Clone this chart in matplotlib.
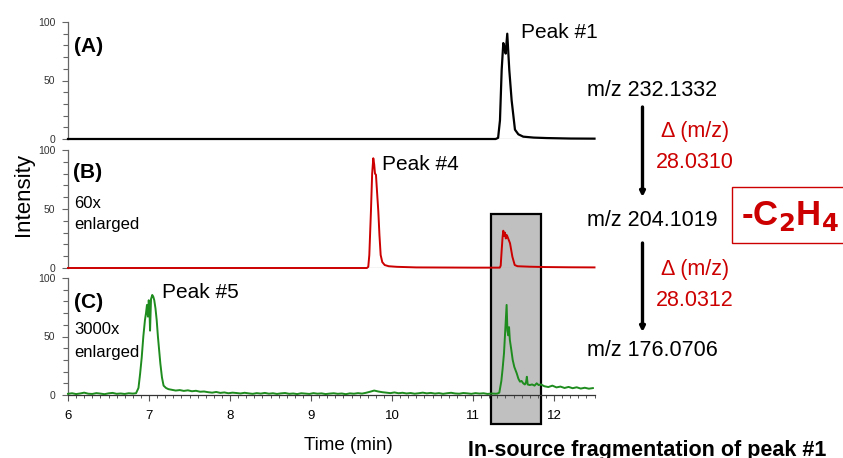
import numpy as np
import matplotlib
matplotlib.use("Agg")
import matplotlib.pyplot as plt
from matplotlib.patches import Rectangle, FancyArrowPatch
from matplotlib.transforms import blended_transform_factory
from matplotlib.ticker import MultipleLocator

plt.rcParams['font.family'] = ['Liberation Sans', 'DejaVu Sans']

# ---- chromatogram traces (time in min, relative intensity) ----
# (A) peak #1
a_time = [6.0, 11.28, 11.31, 11.333, 11.354, 11.374, 11.39, 11.403, 11.423, 11.435,
          11.448, 11.477, 11.518, 11.56, 11.62, 11.75, 11.91, 12.2, 12.5]
a_int = [0, 0, 1, 16, 59, 82, 78, 73, 90, 75,
         59, 33, 8, 4, 2, 1.2, 0.8, 0.4, 0.3]

# (B) peak #4 plus fragment at 11.4 min (60x enlarged)
b_time = [6.0, 9.69, 9.707, 9.72, 9.74, 9.755, 9.769, 9.78, 9.79, 9.802, 9.815,
          9.831, 9.845, 9.86, 9.88, 9.91, 9.96, 10.06, 10.3, 11.0, 11.33, 11.342,
          11.354, 11.365, 11.374, 11.385, 11.395, 11.405, 11.415, 11.423, 11.44,
          11.457, 11.486, 11.515, 11.55, 11.70, 11.9, 12.2, 12.5]
b_int = [0, 0, 1, 11, 48, 80, 93, 88, 80, 79, 65,
         48, 28, 11, 5, 2.5, 1.5, 1, 0.5, 0.3, 0.3, 2,
         15, 26, 31.6, 27, 30, 25, 28, 27, 24,
         21, 9.6, 2.5, 1.5, 1.1, 0.8, 0.6, 0.5]

# (C) peak #5 plus fragment at 11.4 min (3000x enlarged)
c_base1_start, c_base1_step = 6.00, 0.05
c_base1 = [1.0, 1.5, 0.8, 1.3, 2.0, 1.1, 0.9, 1.6, 1.2, 0.7, 1.4, 1.8, 1.0, 1.3,
           0.9, 1.5, 1.2]
c_peak1_time = [6.84, 6.87, 6.89, 6.91, 6.93, 6.95, 6.963, 6.975, 6.987, 6.997,
                7.005, 7.013, 7.025, 7.04, 7.053, 7.065, 7.08, 7.095, 7.11, 7.125,
                7.14, 7.16, 7.18, 7.21, 7.24]
c_peak1_int = [1.5, 6, 18, 32, 50, 64, 70, 77, 67, 81,
               74, 55, 82, 85.5, 84, 81, 74, 64, 50, 38,
               27, 15, 8, 6, 5]
c_base2_start, c_base2_step = 7.28, 0.05
c_base2 = [4.5, 3.8, 4.2, 3.5, 4.0, 3.2, 3.6, 2.8, 3.0,
           2.4, 2.0, 2.6, 1.8, 2.2, 1.5, 2.0, 1.7, 1.3, 1.9, 1.4, 1.0, 1.6, 1.2, 1.8, 1.1,
           1.5, 0.9, 1.4, 1.7, 1.0, 1.3, 0.8, 1.5, 1.2, 0.9, 1.6, 1.1, 1.4, 0.8, 1.2, 1.5,
           1.0, 1.3, 0.7, 1.4, 1.1, 1.6, 1.2, 1.9,
           2.8, 3.8, 3.0, 2.4,
           2.0, 1.6, 2.2, 1.5, 1.9, 1.3, 1.7, 1.1, 1.5, 2.0, 1.4, 1.8, 1.2, 1.6, 1.0,
           1.5, 1.9, 1.3, 1.1, 1.7, 1.4, 1.0, 1.6, 1.2, 1.5, 0.9, 1.3, 1.1]
c_peak2_time = [11.30, 11.325, 11.35, 11.365, 11.383, 11.40, 11.415, 11.425, 11.435,
                11.445, 11.455, 11.47, 11.49, 11.51, 11.54, 11.56, 11.58, 11.60, 11.62,
                11.64, 11.655, 11.665, 11.675, 11.70, 11.73, 11.76, 11.786, 11.81, 11.84]
c_peak2_int = [1.2, 2, 12, 22, 36, 58, 77, 55, 51,
               58, 47, 40, 30, 24, 18.5, 14, 11.4, 12, 10,
               9, 11, 15.6, 9, 8.5, 9, 8, 10, 8.5, 9]
c_base3_start, c_base3_step = 11.88, 0.05
c_base3 = [7.5, 6.8, 8.0, 6.5, 7.2, 6.0, 6.9, 5.8, 6.6, 5.5, 6.2, 5.4, 5.9]


def grid(start, step, vals):
    return list(start + step * np.arange(len(vals)))


c_time = (grid(c_base1_start, c_base1_step, c_base1) + c_peak1_time
          + grid(c_base2_start, c_base2_step, c_base2) + c_peak2_time
          + grid(c_base3_start, c_base3_step, c_base3))
c_int = c_base1 + c_peak1_int + c_base2 + c_peak2_int + c_base3

x_ticks = [6, 7, 8, 9, 10, 11, 12]
y_ticks = [0, 50, 100]
fragment_window = (11.222, 11.84)

RED = '#cc0000'
GREEN = '#1e8c1e'

W, H = 843, 458
fig = plt.figure(figsize=(W / 100, H / 100), dpi=100)


def fx(px):
    return px / W


def fy(py):
    return 1 - py / H


left, right = fx(68), fx(594.5)
panels = [(139, 22), (268, 150), (395, 278)]
axes = []
for y0, y100 in panels:
    ax = fig.add_axes([left, fy(y0), right - left, fy(y100) - fy(y0)])
    ax.set_xlim(6, 12.5)
    ax.set_ylim(0, 100)
    ax.patch.set_visible(False)
    for s in ('top', 'right'):
        ax.spines[s].set_visible(False)
    ax.spines['left'].set_color('#666666')
    ax.spines['left'].set_linewidth(0.9)
    ax.set_yticks(y_ticks)
    ax.yaxis.set_minor_locator(MultipleLocator(10))
    ax.tick_params(axis='y', which='major', length=4.5, width=0.8, color='#666666',
                   labelsize=7.5, labelcolor='#333333', pad=4.5)
    ax.tick_params(axis='y', which='minor', length=3.5, width=0.8, color='#666666')
    axes.append(ax)

ax_a, ax_b, ax_c = axes
for ax in (ax_a, ax_b):
    ax.spines['bottom'].set_visible(False)
    ax.set_xticks([])
    ax.axhline(0, color='#aaaaaa', lw=0.9, zorder=1)

ax_c.spines['bottom'].set_color('#333333')
ax_c.spines['bottom'].set_linewidth(0.9)
ax_c.set_xticks(x_ticks)
ax_c.xaxis.set_minor_locator(MultipleLocator(0.1))
ax_c.tick_params(axis='x', which='major', length=4.5, width=0.8, color='#555555',
                 labelsize=9.5, pad=6)
ax_c.tick_params(axis='x', which='minor', length=2.5, width=0.7, color='#555555')

ax_a.plot(a_time, a_int, color='black', lw=1.6, zorder=3, clip_on=False)
ax_b.plot(b_time, b_int, color=RED, lw=1.4, zorder=3, clip_on=False)
ax_c.plot(c_time, c_int, color=GREEN, lw=1.4, zorder=3, clip_on=False)

# shaded window around the in-source fragment
trans = blended_transform_factory(ax_c.transData, fig.transFigure)
box = Rectangle((fragment_window[0], fy(424)), fragment_window[1] - fragment_window[0],
                fy(214) - fy(424), transform=trans, facecolor='#c0c0c0',
                edgecolor='black', lw=1.6, zorder=-1)
fig.add_artist(box)

# panel labels
fig.text(fx(74), fy(46), '(A)', fontsize=15, fontweight='bold', va='center')
fig.text(fx(73), fy(172), '(B)', fontsize=15, fontweight='bold', va='center')
fig.text(fx(74), fy(203), '60x', fontsize=12, va='center')
fig.text(fx(74), fy(225), 'enlarged', fontsize=12, va='center')
fig.text(fx(74), fy(302), '(C)', fontsize=15, fontweight='bold', va='center')
fig.text(fx(74), fy(329), '3000x', fontsize=12, va='center')
fig.text(fx(74), fy(352), 'enlarged', fontsize=12, va='center')

fig.text(fx(521), fy(33), 'Peak #1', fontsize=15, va='center')
fig.text(fx(382), fy(165), 'Peak #4', fontsize=15, va='center')
fig.text(fx(162), fy(293), 'Peak #5', fontsize=15, va='center')

fig.text(fx(23), fy(195), 'Intensity', fontsize=16, rotation=90, ha='center', va='center')
fig.text(fx(348), fy(445), 'Time (min)', fontsize=13.5, ha='center', va='center')
fig.text(fx(468), fy(456), 'In-source fragmentation of peak #1', fontsize=15.5,
         fontweight='bold', va='baseline')

# fragmentation scheme
fig.text(fx(587), fy(90), 'm/z 232.1332', fontsize=15.5, va='center')
fig.text(fx(587), fy(221), 'm/z 204.1019', fontsize=15.5, va='center')
fig.text(fx(587), fy(351), 'm/z 176.0706', fontsize=15.5, va='center')
fig.text(fx(661), fy(131), 'Δ (m/z)', fontsize=15.5, color=RED, va='center')
fig.text(fx(656), fy(162), '28.0310', fontsize=15.5, color=RED, va='center')
fig.text(fx(661), fy(270), 'Δ (m/z)', fontsize=15.5, color=RED, va='center')
fig.text(fx(656), fy(300), '28.0312', fontsize=15.5, color=RED, va='center')

for top, tip in [(107, 197), (243, 332)]:
    arr = FancyArrowPatch((fx(642.5), fy(top)), (fx(642.5), fy(tip)),
                          transform=fig.transFigure, arrowstyle='-|>',
                          mutation_scale=7, lw=2.4, color='black', shrinkA=0, shrinkB=0)
    fig.add_artist(arr)

loss_box = Rectangle((fx(732), fy(243)), fx(120), fy(187) - fy(243),
                     transform=fig.transFigure, facecolor='white', edgecolor=RED,
                     lw=1.0, clip_on=False)
fig.add_artist(loss_box)
fig.text(fx(741), fy(216), '-C$_\\mathbf{2}$H$_\\mathbf{4}$', fontsize=25, fontweight='bold',
         color=RED, va='center')

fig.savefig('out.png', dpi=100)
